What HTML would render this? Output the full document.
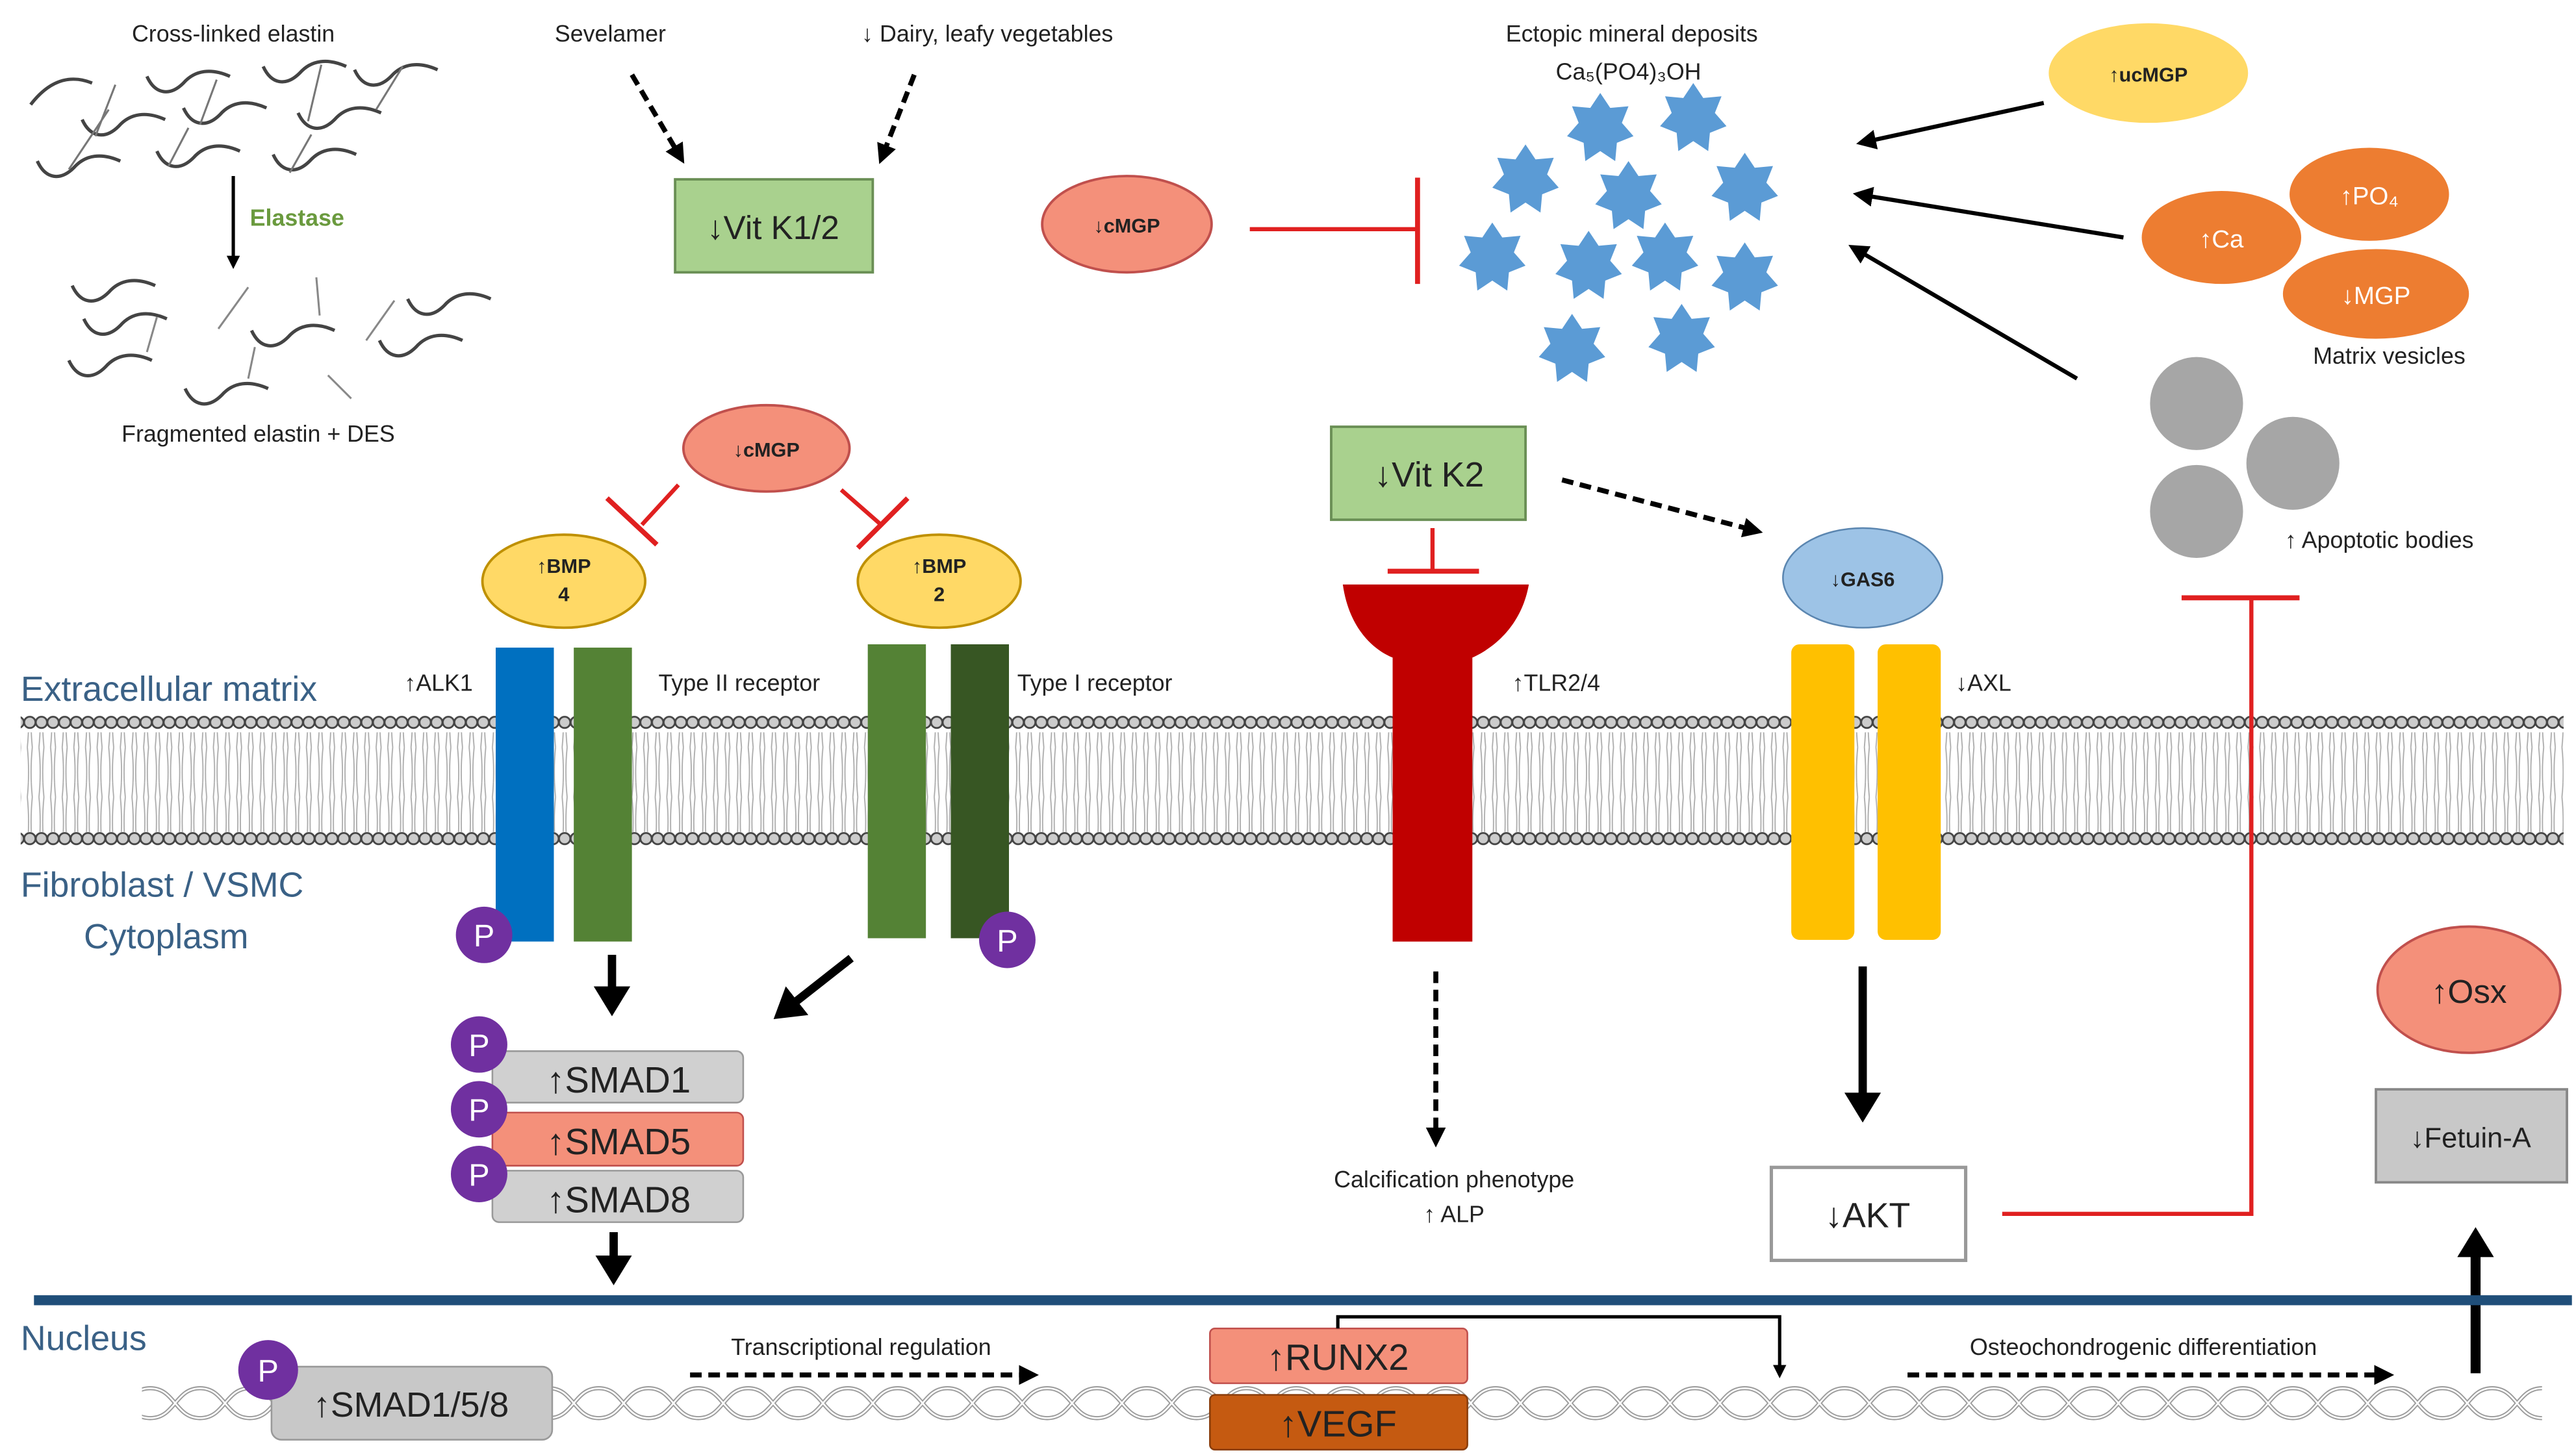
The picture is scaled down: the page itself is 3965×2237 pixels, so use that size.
<!DOCTYPE html>
<html><head><meta charset="utf-8"><style>
html,body{margin:0;padding:0;background:#fff;}
svg{display:block;}
text{font-family:"Liberation Sans",sans-serif;}
</style></head><body>
<svg width="3965" height="2237" viewBox="0 0 1550 875" xmlns="http://www.w3.org/2000/svg">
<defs>
<marker id="ah" markerWidth="8" markerHeight="8" refX="6" refY="4" orient="auto" markerUnits="userSpaceOnUse"><path d="M0,0 L8,4 L0,8 z" fill="#000"/></marker>
<marker id="ahb" markerWidth="22" markerHeight="22" refX="12" refY="11" orient="auto" markerUnits="userSpaceOnUse"><path d="M0,0 L18,11 L0,22 z" fill="#000"/></marker>
<marker id="ahm" markerWidth="12" markerHeight="12" refX="9" refY="6" orient="auto" markerUnits="userSpaceOnUse"><path d="M0,0 L12,6 L0,12 z" fill="#000"/></marker>
<pattern id="heads" width="7" height="10" patternUnits="userSpaceOnUse"><circle cx="3.5" cy="5" r="3.4" fill="#ccc" stroke="#444" stroke-width="1.1"/></pattern>
<pattern id="tails" width="7" height="30" patternUnits="userSpaceOnUse"><path d="M2,0 Q3.5,15 2,30 M5,0 Q3.5,15 5,30" stroke="#aaa" stroke-width="0.7" fill="none"/></pattern>
<pattern id="dna" width="60" height="26" patternUnits="userSpaceOnUse"><path d="M0,4 C15,4 15,22 30,22 C45,22 45,4 60,4 M0,22 C15,22 15,4 30,4 C45,4 45,22 60,22" stroke="#999" stroke-width="2.5" fill="none"/><path d="M0,4 C15,4 15,22 30,22 C45,22 45,4 60,4 M0,22 C15,22 15,4 30,4 C45,4 45,22 60,22" stroke="#fff" stroke-width="1" fill="none"/></pattern>
<path id="sq" d="M0,0 C5,11 14,12 22,4 C29,-4 39,-5 50,0" stroke="#444" stroke-width="2" fill="none"/>
<polygon id="star" points="0,-21 6,-12 17,-13 13,-3 20,5 10,9 9,20 0,14 -9,20 -10,9 -20,5 -13,-3 -17,-13 -6,-12" fill="#5b9bd5"/>
</defs>

<!-- membrane -->
<rect x="12" y="431" width="1531" height="10" fill="url(#heads)"/>
<rect x="12" y="441" width="1531" height="30" fill="url(#tails)"/>
<rect x="12" y="471" width="1531" height="30" fill="url(#tails)"/>
<rect x="12" y="501" width="1531" height="10" fill="url(#heads)"/>

<text x="12" y="422" font-size="21" fill="#3a6186">Extracellular  matrix</text>
<text x="12" y="540" font-size="21" fill="#3a6186">Fibroblast / VSMC</text>
<text x="50" y="571" font-size="21" fill="#3a6186">Cytoplasm</text>
<text x="12" y="813" font-size="21" fill="#3a6186">Nucleus</text>

<!-- elastin -->
<g>
<path d="M18,63 C28,50 40,44 55,50" stroke="#444" stroke-width="2" fill="none"/>
<use href="#sq" x="88" y="46"/><use href="#sq" x="158" y="40"/><use href="#sq" x="213" y="42"/>
<use href="#sq" x="49" y="72"/><use href="#sq" x="110" y="65"/><use href="#sq" x="179" y="68"/>
<use href="#sq" x="22" y="97"/><use href="#sq" x="94" y="91"/><use href="#sq" x="164" y="93"/>
<path d="M69,51 L57,82 M130,48 L120,75 M65,66 L41,102 M193,39 L185,73 M242,40 L226,66 M187,81 L174,104 M113,77 L101,100" stroke="#777" stroke-width="1.2"/>
<line x1="140" y1="106" x2="140" y2="160" stroke="#000" stroke-width="2" marker-end="url(#ah)"/>
<text x="150" y="136" font-size="14" fill="#6a9a3e" font-weight="bold">Elastase</text>
<use href="#sq" x="43" y="172"/><use href="#sq" x="50" y="192"/><use href="#sq" x="41" y="217"/>
<use href="#sq" x="111" y="234"/><use href="#sq" x="151" y="199"/><use href="#sq" x="245" y="180"/><use href="#sq" x="228" y="205"/>
<path d="M131,198 L149,173 M190,167 L192,190 M220,205 L237,181 M197,226 L211,240 M153,209 L149,228 M94,191 L88,212" stroke="#888" stroke-width="1.2"/>
</g>
<text x="140" y="25" font-size="14" text-anchor="middle" fill="#222">Cross-linked elastin</text>
<text x="155" y="266" font-size="14" text-anchor="middle" fill="#222">Fragmented elastin + DES</text>

<!-- vit K1/2 -->
<text x="367" y="25" font-size="14" text-anchor="middle" fill="#222">Sevelamer</text>
<text x="594" y="25" font-size="14" text-anchor="middle" fill="#222">↓ Dairy, leafy vegetables</text>
<line x1="380" y1="45" x2="410" y2="96" stroke="#000" stroke-width="3" stroke-dasharray="7,4" marker-end="url(#ahm)"/>
<line x1="550" y1="45" x2="530" y2="96" stroke="#000" stroke-width="3" stroke-dasharray="7,4" marker-end="url(#ahm)"/>
<rect x="406" y="108" width="119" height="56" fill="#a9d18e" stroke="#6a8f55" stroke-width="1.5"/>
<text x="465" y="144" font-size="20" text-anchor="middle" fill="#222">↓Vit K1/2</text>

<!-- cMGP top -->
<ellipse cx="678" cy="135" rx="51" ry="29" fill="#f4907a" stroke="#c0504d" stroke-width="1.5"/>
<text x="678" y="140" font-size="12" text-anchor="middle" font-weight="bold" fill="#222">↓cMGP</text>
<line x1="752" y1="138" x2="852" y2="138" stroke="#e02020" stroke-width="2.5"/>
<line x1="853" y1="107" x2="853" y2="171" stroke="#e02020" stroke-width="3"/>

<text x="982" y="25" font-size="14" text-anchor="middle" fill="#222">Ectopic mineral deposits</text>
<text x="980" y="48" font-size="14" text-anchor="middle" fill="#222">Ca₅(PO4)₃OH</text>
<use href="#star" x="963" y="77"/><use href="#star" x="1019" y="71"/><use href="#star" x="918" y="108"/>
<use href="#star" x="980" y="118"/><use href="#star" x="1050" y="113"/><use href="#star" x="898" y="155"/>
<use href="#star" x="956" y="160"/><use href="#star" x="1002" y="155"/><use href="#star" x="1050" y="167"/>
<use href="#star" x="946" y="210"/><use href="#star" x="1012" y="204"/>

<ellipse cx="1293" cy="44" rx="60" ry="30" fill="#ffd966"/>
<text x="1293" y="49" font-size="12" text-anchor="middle" font-weight="bold" fill="#222">↑ucMGP</text>
<line x1="1230" y1="62" x2="1120" y2="86" stroke="#000" stroke-width="2.5" marker-end="url(#ahm)"/>
<line x1="1278" y1="143" x2="1118" y2="117" stroke="#000" stroke-width="2.5" marker-end="url(#ahm)"/>
<line x1="1250" y1="228" x2="1115" y2="149" stroke="#000" stroke-width="2.5" marker-end="url(#ahm)"/>
<ellipse cx="1426" cy="117" rx="48" ry="28" fill="#ed7d31"/>
<text x="1426" y="123" font-size="15" text-anchor="middle" fill="#fff">↑PO₄</text>
<ellipse cx="1337" cy="143" rx="48" ry="28" fill="#ed7d31"/>
<text x="1337" y="149" font-size="15" text-anchor="middle" fill="#fff">↑Ca</text>
<ellipse cx="1430" cy="177" rx="56" ry="27" fill="#ed7d31"/>
<text x="1430" y="183" font-size="15" text-anchor="middle" fill="#fff">↓MGP</text>
<text x="1438" y="219" font-size="14" text-anchor="middle" fill="#222">Matrix vesicles</text>
<circle cx="1322" cy="243" r="28" fill="#a6a6a6"/>
<circle cx="1380" cy="279" r="28" fill="#a6a6a6"/>
<circle cx="1322" cy="308" r="28" fill="#a6a6a6"/>
<text x="1432" y="330" font-size="14" text-anchor="middle" fill="#222">↑ Apoptotic bodies</text>

<!-- BMP section -->
<ellipse cx="461" cy="270" rx="50" ry="26" fill="#f4907a" stroke="#c0504d" stroke-width="1.5"/>
<text x="461" y="275" font-size="12" text-anchor="middle" font-weight="bold" fill="#222">↓cMGP</text>
<line x1="408" y1="292" x2="386" y2="316" stroke="#e02020" stroke-width="2.5"/>
<line x1="365" y1="300" x2="395" y2="328" stroke="#e02020" stroke-width="3"/>
<line x1="506" y1="295" x2="530" y2="316" stroke="#e02020" stroke-width="2.5"/>
<line x1="546" y1="300" x2="516" y2="330" stroke="#e02020" stroke-width="3"/>

<rect x="298" y="390" width="35" height="177" fill="#0070c0"/>
<rect x="345" y="390" width="35" height="177" fill="#548235"/>
<rect x="522" y="388" width="35" height="177" fill="#548235"/>
<rect x="572" y="388" width="35" height="177" fill="#375623"/>
<ellipse cx="339" cy="350" rx="49" ry="28" fill="#ffd966" stroke="#bf9000" stroke-width="1.5"/>
<text x="339" y="345" font-size="12" text-anchor="middle" font-weight="bold" fill="#222">↑BMP</text>
<text x="339" y="362" font-size="12" text-anchor="middle" font-weight="bold" fill="#222">4</text>
<ellipse cx="565" cy="350" rx="49" ry="28" fill="#ffd966" stroke="#bf9000" stroke-width="1.5"/>
<text x="565" y="345" font-size="12" text-anchor="middle" font-weight="bold" fill="#222">↑BMP</text>
<text x="565" y="362" font-size="12" text-anchor="middle" font-weight="bold" fill="#222">2</text>
<text x="243" y="416" font-size="14" fill="#222">↑ALK1</text>
<text x="396" y="416" font-size="14" fill="#222">Type II receptor</text>
<text x="612" y="416" font-size="14" fill="#222">Type I receptor</text>
<circle cx="291" cy="563" r="17" fill="#7030a0"/><text x="291" y="570" font-size="19" text-anchor="middle" fill="#fff">P</text>
<circle cx="606" cy="566" r="17" fill="#7030a0"/><text x="606" y="573" font-size="19" text-anchor="middle" fill="#fff">P</text>
<line x1="368" y1="575" x2="368" y2="606" stroke="#000" stroke-width="5" marker-end="url(#ahb)"/>
<line x1="512" y1="577" x2="470" y2="610" stroke="#000" stroke-width="5" marker-end="url(#ahb)"/>

<rect x="296" y="633" width="151" height="31" rx="4" fill="#d0d0d0" stroke="#999"/>
<text x="372" y="658" font-size="22" text-anchor="middle" fill="#222">↑SMAD1</text>
<rect x="296" y="670" width="151" height="32" rx="4" fill="#f4907a" stroke="#c0504d"/>
<text x="372" y="695" font-size="22" text-anchor="middle" fill="#222">↑SMAD5</text>
<rect x="296" y="705" width="151" height="31" rx="4" fill="#d0d0d0" stroke="#999"/>
<text x="372" y="730" font-size="22" text-anchor="middle" fill="#222">↑SMAD8</text>
<circle cx="288" cy="629" r="17" fill="#7030a0"/><text x="288" y="636" font-size="19" text-anchor="middle" fill="#fff">P</text>
<circle cx="288" cy="668" r="17" fill="#7030a0"/><text x="288" y="675" font-size="19" text-anchor="middle" fill="#fff">P</text>
<circle cx="288" cy="707" r="17" fill="#7030a0"/><text x="288" y="714" font-size="19" text-anchor="middle" fill="#fff">P</text>
<line x1="369" y1="742" x2="369" y2="768" stroke="#000" stroke-width="5" marker-end="url(#ahb)"/>

<!-- TLR -->
<rect x="801" y="257" width="117" height="56" fill="#a9d18e" stroke="#6a8f55" stroke-width="1.5"/>
<text x="860" y="293" font-size="21" text-anchor="middle" fill="#222">↓Vit K2</text>
<line x1="862" y1="318" x2="862" y2="343" stroke="#e02020" stroke-width="2.5"/>
<line x1="835" y1="344" x2="890" y2="344" stroke="#e02020" stroke-width="3"/>
<line x1="940" y1="289" x2="1058" y2="320" stroke="#000" stroke-width="3" stroke-dasharray="7,4" marker-end="url(#ahm)"/>
<path d="M808,352 L920,352 C915,380 895,392 886,396 L886,567 L838,567 L838,396 C828,392 812,380 808,352 Z" fill="#c00000"/>
<text x="910" y="416" font-size="14" fill="#222">↑TLR2/4</text>
<line x1="864" y1="585" x2="864" y2="688" stroke="#000" stroke-width="3" stroke-dasharray="7,4" marker-end="url(#ahm)"/>
<text x="875" y="715" font-size="14" text-anchor="middle" fill="#222">Calcification phenotype</text>
<text x="875" y="736" font-size="14" text-anchor="middle" fill="#222">↑ ALP</text>

<!-- AXL -->
<rect x="1078" y="388" width="38" height="178" rx="5" fill="#ffc000"/>
<rect x="1130" y="388" width="38" height="178" rx="5" fill="#ffc000"/>
<ellipse cx="1121" cy="348" rx="48" ry="30" fill="#9dc3e6" stroke="#5b86b0" stroke-width="1"/>
<text x="1121" y="353" font-size="12" text-anchor="middle" font-weight="bold" fill="#222">↓GAS6</text>
<text x="1177" y="416" font-size="14" fill="#222">↓AXL</text>
<line x1="1121" y1="582" x2="1121" y2="670" stroke="#000" stroke-width="5" marker-end="url(#ahb)"/>
<rect x="1066" y="703" width="117" height="56" fill="#fff" stroke="#999" stroke-width="2"/>
<text x="1124" y="739" font-size="21" text-anchor="middle" fill="#222">↓AKT</text>
<polyline points="1205,731 1355,731 1355,361" fill="none" stroke="#e02020" stroke-width="2.5"/>
<line x1="1313" y1="360" x2="1384" y2="360" stroke="#e02020" stroke-width="3"/>

<!-- right -->
<ellipse cx="1486" cy="596" rx="55" ry="38" fill="#f4907a" stroke="#c0504d" stroke-width="1.5"/>
<text x="1486" y="604" font-size="20" text-anchor="middle" fill="#222">↑Osx</text>
<rect x="1430" y="656" width="115" height="56" fill="#c8c8c8" stroke="#888" stroke-width="1.5"/>
<text x="1487" y="691" font-size="17" text-anchor="middle" fill="#222">↓Fetuin-A</text>
<line x1="1490" y1="827" x2="1490" y2="745" stroke="#000" stroke-width="6" marker-end="url(#ahb)"/>

<!-- nucleus -->
<line x1="20" y1="783" x2="1548" y2="783" stroke="#1f4e79" stroke-width="6"/>
<rect x="85" y="832" width="1445" height="26" fill="url(#dna)"/>
<rect x="163" y="823" width="169" height="44" rx="6" fill="#c8c8c8" stroke="#999"/>
<text x="247" y="853" font-size="21" text-anchor="middle" fill="#222">↑SMAD1/5/8</text>
<circle cx="161" cy="825" r="18" fill="#7030a0"/><text x="161" y="832" font-size="19" text-anchor="middle" fill="#fff">P</text>
<text x="518" y="816" font-size="14" text-anchor="middle" fill="#222">Transcriptional regulation</text>
<line x1="415" y1="828" x2="622" y2="828" stroke="#000" stroke-width="3" stroke-dasharray="7,4" marker-end="url(#ahm)"/>
<rect x="728" y="800" width="155" height="33" rx="3" fill="#f4907a" stroke="#c0504d"/>
<text x="805" y="825" font-size="22" text-anchor="middle" fill="#222">↑RUNX2</text>
<rect x="728" y="840" width="155" height="33" rx="3" fill="#c55a11" stroke="#8a3d0b"/>
<text x="805" y="865" font-size="22" text-anchor="middle" fill="#222">↑VEGF</text>
<polyline points="805,800 805,793 1071,793 1071,828" fill="none" stroke="#000" stroke-width="2" marker-end="url(#ah)"/>
<text x="1290" y="816" font-size="14" text-anchor="middle" fill="#222">Osteochondrogenic differentiation</text>
<line x1="1148" y1="828" x2="1438" y2="828" stroke="#000" stroke-width="3" stroke-dasharray="7,4" marker-end="url(#ahm)"/>
</svg>
</body></html>
